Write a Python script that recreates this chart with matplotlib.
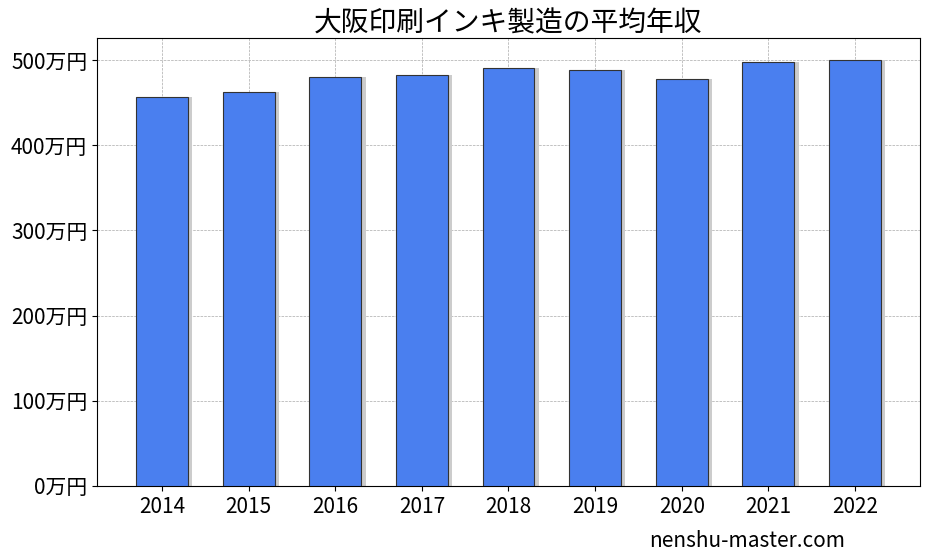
import matplotlib
matplotlib.use("Agg")
import matplotlib.pyplot as plt

plt.rcParams['font.family'] = ['Noto Sans CJK JP', 'DejaVu Sans']

years = ['2014', '2015', '2016', '2017', '2018', '2019', '2020', '2021', '2022']
salary = [457, 463, 480, 482, 491, 489, 478, 498, 500]
yticks = [0, 100, 200, 300, 400, 500]
ytick_labels = ['0万円', '100万円', '200万円', '300万円', '400万円', '500万円']

fig = plt.figure(figsize=(9.27, 5.55), dpi=100)
ax = fig.add_axes([97/927, 1-486/555, (920-97)/927, (486-38)/555])
x = list(range(len(years)))
ax.bar([i + 0.05 for i in x], salary, width=0.6, color='#cccccc', zorder=2)
ax.bar(x, salary, width=0.6, color='#4a7fef', edgecolor='#333333', linewidth=0.8, zorder=3)
ax.set_xticks(x)
ax.set_xticklabels(years, fontsize=15)
ax.set_yticks(yticks)
ax.set_yticklabels(ytick_labels, fontsize=15)
ax.set_ylim(0, 526)
ax.set_xlim(-0.75, 8.75)
ax.grid(axis='both', linestyle='--', linewidth=0.5, color='#aaaaaa', zorder=0)
ax.set_title('大阪印刷インキ製造の平均年収', fontsize=20, pad=4)
fig.text(0.70, 0.015, 'nenshu-master.com', fontsize=15)
fig.savefig('out.png', dpi=100)
